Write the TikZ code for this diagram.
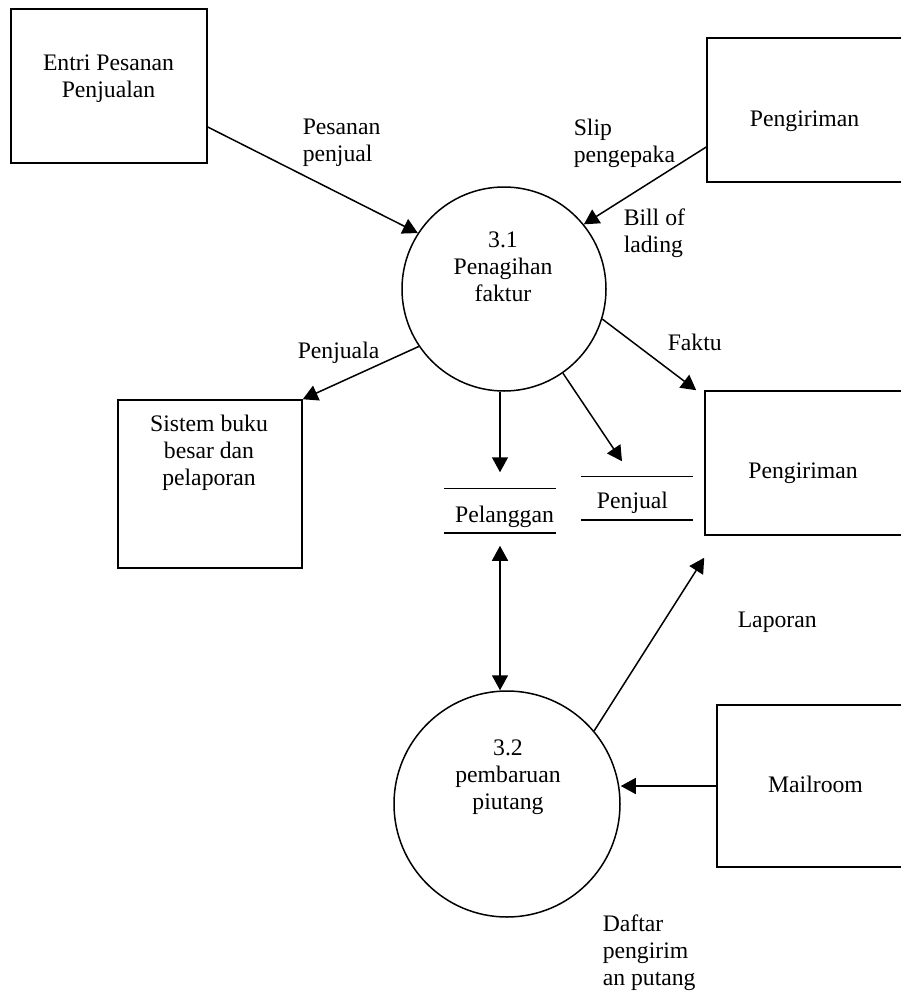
\documentclass[tikz,border=0pt]{standalone}
\usepackage{fontspec}
\setmainfont{Liberation Serif}
\usetikzlibrary{arrows.meta}
\tikzset{>={Triangle[length=7.5pt,width=8pt]}}
\tikzset{box/.style={draw,rectangle,inner sep=0pt},
  proc/.style={draw,circle,inner sep=0pt},
  store/.style={inner sep=0pt},
  txt/.style={inner sep=0pt,align=center,font=\fontsize{11.85}{13.6}\selectfont},
  lbl/.style={inner sep=0pt,align=left,anchor=west,font=\fontsize{11.85}{13.6}\selectfont}}

\begin{document}
\begin{tikzpicture}[x=0.5pt,y=-0.5pt,line width=0.75pt]
\useasboundingbox (0,0) rectangle (900,991);
\node[box,minimum width=98pt,minimum height=77pt] (entri) at (109,86) {};
\node[txt] (entri-t) at (108.5,78.6) {Entri Pesanan\\Penjualan};
\node[box,minimum width=101.5pt,minimum height=72pt] (pg1) at (808.5,110) {};
\node[txt,anchor=base] (pg1-t) at (804.5,126) {Pengiriman};
\node[proc,minimum size=102pt] (p31) at (504,289) {};
\node[txt] (p31-t) at (503,266.6) {3.1\\Penagihan\\faktur};
\node[box,minimum width=92pt,minimum height=84pt] (sistem) at (210,484) {};
\node[txt] (sistem-t) at (209,452.9) {Sistem buku\\besar dan\\pelaporan};
\node[box,minimum width=102.5pt,minimum height=72pt] (pg2) at (807.5,463) {};
\node[txt,anchor=base] (pg2-t) at (803,478) {Pengiriman};
\node[store,minimum width=55pt,minimum height=21.5pt] (pel) at (500,510.5) {};
\node[txt,anchor=base] (pel-t) at (504.5,522) {Pelanggan};
\node[store,minimum width=55pt,minimum height=21pt] (penj) at (637,498) {};
\node[txt,anchor=base] (penj-t) at (632.5,508) {Penjual};
\node[proc,minimum size=113pt] (p32) at (507,804) {};
\node[txt] (p32-t) at (508,776.9) {3.2\\pembaruan\\piutang};
\node[box,minimum width=96.5pt,minimum height=81pt] (mail) at (813.5,786) {};
\node[txt,anchor=base] (mail-t) at (815.5,792) {Mailroom};

\node[lbl] (pesanan) at (302,142.6) {Pesanan\\penjual};
\node[lbl] (slip) at (573,143.6) {Slip\\pengepaka};
\node[lbl] (bill) at (623,233.1) {Bill of\\lading};
\node[lbl,anchor=base west] (penjuala) at (297,358) {Penjuala};
\node[lbl,anchor=base west] (faktu) at (667,350) {Faktu};
\node[lbl,anchor=base west] (laporan) at (737,627) {Laporan};
\node[lbl] (daftar) at (602,952.9) {Daftar\\pengirim\\an putang};

\draw (pel.north west) -- (pel.north east);
\draw (pel.south west) -- (pel.south east);
\draw (penj.north west) -- (penj.north east);
\draw (penj.south west) -- (penj.south east);

\draw[->] ([yshift=-20.5pt]entri.east) -- (p31.147);
\draw[->] ([yshift=-18.5pt]pg1.west) -- (p31.39);
\draw[->] (p31.214) -- (sistem.north east);
\draw[->] (p31.-17) -- ([xshift=-4pt]pg2.north west);
\draw[->] (p31.south -| pel.north) -- ([yshift=8pt]pel.north);
\draw[->] (p31.-55) -- ([xshift=-7.5pt,yshift=7.5pt]penj.north);
\draw[<->] ([yshift=-6.5pt]pel.south) -- (p32.north -| pel.south);
\draw[->] (p32.40) -- ([yshift=-11pt]pg2.south west);
\draw[->] (mail.west) -- (mail.west -| p32.east);
\end{tikzpicture}
\end{document}
